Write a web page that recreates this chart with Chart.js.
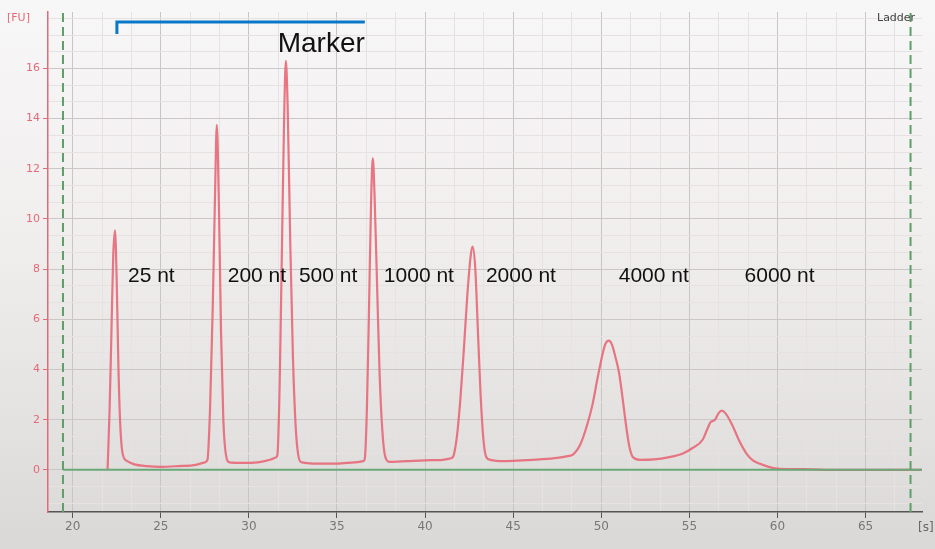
<!DOCTYPE html>
<html>
<head>
<meta charset="utf-8">
<script src="https://cdn.jsdelivr.net/npm/chart.js@4/dist/chart.umd.min.js"></script>
<style>
  html, body { margin: 0; padding: 0; }
  body {
    width: 935px; height: 549px; overflow: hidden;
    background: linear-gradient(to bottom, #f8f7f7 0%, #f0eded 45%, #e3e0e0 80%, #dad7d7 100%);
  }
  #wrap { position: relative; width: 935px; height: 549px; }
  canvas { display: block; }
</style>
</head>
<body>
<div id="wrap"><canvas id="ladderChart" width="935" height="549"></canvas></div>
<script>
// electropherogram trace: migration time [s] and fluorescence [FU]
const traceTime = [
  21.98, 22.1, 22.2, 22.3, 22.4, 22.5, 22.6, 22.7, 22.85, 23.1, 23.5, 24.2, 25, 26, 27, 27.5,
  27.65, 27.8, 27.95, 28.08, 28.18, 28.3, 28.42, 28.55, 28.7, 28.9, 29.5, 30.5, 31.2, 31.55,
  31.62, 31.75, 31.88, 32.0, 32.1, 32.2, 32.35, 32.5, 32.65, 32.8, 33.0, 34, 35, 36, 36.5,
  36.58, 36.7, 36.82, 36.93, 37.03, 37.13, 37.27, 37.42, 37.58, 37.75, 38.0, 39, 40, 41, 41.4,
  41.57, 41.8, 42.0, 42.2, 42.4, 42.6, 42.7, 42.85, 43.0, 43.15, 43.3, 43.45, 43.7, 44.5, 45.5, 46.5, 47.5, 48.1,
  48.37, 48.8, 49.2, 49.5, 49.8, 50.1, 50.25, 50.42, 50.6, 50.8, 51.0, 51.2, 51.4, 51.6, 51.8, 52.2, 53, 53.8,
  54.6, 55.2, 55.75, 56.0, 56.2, 56.45, 56.65, 56.83, 57.05, 57.45, 57.8, 58.25, 58.6, 59.0, 59.5, 60, 61, 62, 63, 68.2
];
const traceFU = [
  0, 2.5, 5.5, 8.5, 9.55, 7.5, 4, 1.8, 0.6, 0.35, 0.22, 0.15, 0.12, 0.15, 0.2, 0.3,
  0.4, 2.5, 6.5, 11, 13.75, 10.5, 5.5, 2, 0.6, 0.3, 0.28, 0.3, 0.4, 0.5,
  0.6, 3.5, 9, 14, 16.3, 14.5, 9, 4.5, 1.8, 0.6, 0.3, 0.25, 0.25, 0.3, 0.35,
  0.45, 2.5, 6.5, 10.5, 12.43, 11, 7.5, 3.8, 1.5, 0.5, 0.32, 0.35, 0.38, 0.4, 0.45,
  0.5, 1.3, 2.8, 4.8, 7, 8.6, 8.9, 8, 5.5, 3, 1.3, 0.55, 0.4, 0.35, 0.38, 0.42, 0.48, 0.55,
  0.6, 1.0, 1.8, 2.6, 3.7, 4.7, 5.05, 5.15, 5.0, 4.5, 3.9, 2.9, 1.8, 0.9, 0.5, 0.4, 0.42, 0.5,
  0.64, 0.88, 1.2, 1.6, 1.9, 2.0, 2.25, 2.36, 2.25, 1.76, 1.2, 0.64, 0.38, 0.24, 0.12, 0.05, 0.03, 0.02, 0, 0
];

// ladder fragment labels and where they sit (x in s, y in FU)
const sizeLabels = ['25 nt', '200 nt', '500 nt', '1000 nt', '2000 nt', '4000 nt', '6000 nt'];
const sizeLabelX = [23.14, 28.8, 32.84, 37.66, 43.45, 50.99, 58.13];
const sizeLabelY = 7.7;

// axis ticks
const xTickLabels = [20, 25, 30, 35, 40, 45, 50, 55, 60, 65];
const yTickLabels = [0, 2, 4, 6, 8, 10, 12, 14, 16];

// lower / upper marker (dashed green) and marker bracket
const markerTimes = [19.45, 67.55];
const bracketStart = 22.51, bracketEnd = 36.58, bracketTop = 17.85, bracketFoot = 17.37;

const X_MIN = 18.6, X_MAX = 68.2, Y_MIN = -1.68, Y_MAX = 18.25;

function withMinor(majors, step, min, max) {
  const out = [];
  const sub = step / 3;
  for (let v = majors[0] - step; v <= majors[majors.length - 1] + step; v += sub) {
    const r = Math.round(v * 1000) / 1000;
    if (r < min || r > max) continue;
    const isMajor = majors.includes(Math.round(r * 1000) / 1000);
    out.push({ value: r, major: isMajor });
  }
  return out;
}

const textPlugin = {
  id: 'texts',
  afterDatasetsDraw(chart) {
    const ctx = chart.ctx;
    const xs = chart.scales.x, ys = chart.scales.y;
    ctx.save();
    ctx.fillStyle = '#111';
    ctx.font = '21px "Liberation Sans", Arial, sans-serif';
    ctx.textBaseline = 'middle';
    ctx.textAlign = 'left';
    sizeLabels.forEach((t, i) => {
      ctx.fillText(t, xs.getPixelForValue(sizeLabelX[i]), ys.getPixelForValue(sizeLabelY));
    });
    ctx.font = '28px "Liberation Sans", Arial, sans-serif';
    ctx.textAlign = 'right';
    ctx.fillText('Marker', xs.getPixelForValue(bracketEnd), ys.getPixelForValue(16.97));

    ctx.font = '11px "DejaVu Sans", sans-serif';
    ctx.fillStyle = '#e46a78';
    ctx.textAlign = 'left';
    ctx.fillText('[FU]', 7, 18);
    ctx.fillStyle = '#444';
    ctx.fillText('Ladder', 877, 18);
    ctx.fillStyle = '#666';
    ctx.font = '12px "DejaVu Sans", sans-serif';
    ctx.fillText('[s]', 918, 528);
    ctx.restore();
  }
};

new Chart(document.getElementById('ladderChart'), {
  type: 'line',
  data: {
    datasets: [
      {
        // marker bracket
        data: [{ x: bracketStart, y: bracketFoot }, { x: bracketStart, y: bracketTop }, { x: bracketEnd, y: bracketTop }],
        borderColor: '#0a78c8',
        borderWidth: 3,
        pointRadius: 0,
        borderCapStyle: 'butt'
      },
      {
        // baseline
        data: [{ x: markerTimes[0], y: 0 }, { x: X_MAX, y: 0 }],
        borderColor: '#6aa878',
        borderWidth: 2,
        pointRadius: 0
      },
      {
        data: [{ x: markerTimes[0], y: Y_MIN }, { x: markerTimes[0], y: Y_MAX }],
        borderColor: '#5f9e6a',
        borderWidth: 2,
        borderDash: [9, 5],
        pointRadius: 0
      },
      {
        data: [{ x: markerTimes[1], y: Y_MIN }, { x: markerTimes[1], y: Y_MAX }],
        borderColor: '#5f9e6a',
        borderWidth: 2,
        borderDash: [9, 5],
        pointRadius: 0
      },
      {
        label: 'Ladder',
        data: traceTime.map((t, i) => ({ x: t, y: traceFU[i] })),
        borderColor: 'rgba(230, 106, 120, 0.92)',
        borderWidth: 2.2,
        pointRadius: 0,
        cubicInterpolationMode: 'monotone'
      }
    ]
  },
  options: {
    responsive: false,
    devicePixelRatio: 1,
    animation: false,
    layout: { padding: { top: 12, right: 13, left: 0, bottom: 0 } },
    plugins: { legend: { display: false }, tooltip: { enabled: false } },
    scales: {
      x: {
        type: 'linear',
        min: X_MIN,
        max: X_MAX,
        afterFit: s => { s.height = 37; },
        afterBuildTicks: s => { s.ticks = withMinor(xTickLabels, 5, X_MIN, X_MAX); },
        border: { color: '#555', width: 1.5 },
        grid: {
          color: c => (c.tick && c.tick.major ? '#c9c5c5' : '#e6e2e2'),
          tickColor: c => (c.tick && c.tick.major ? '#555' : 'rgba(0,0,0,0)'),
          tickLength: 6
        },
        ticks: {
          autoSkip: false,
          maxRotation: 0,
          color: '#777',
          font: { family: 'DejaVu Sans', size: 12 },
          padding: 2,
          callback: (v, i, ticks) => (ticks[i].major ? String(Math.round(v)) : '')
        }
      },
      y: {
        type: 'linear',
        min: Y_MIN,
        max: Y_MAX,
        afterFit: s => { s.width = 48; },
        afterBuildTicks: s => { s.ticks = withMinor(yTickLabels, 2, Y_MIN, Y_MAX); },
        border: { color: '#e06a78', width: 1.5 },
        grid: {
          color: c => (c.tick && c.tick.major ? '#cbc7c7' : '#e6e2e2'),
          tickColor: c => (c.tick && c.tick.major ? '#e06a78' : 'rgba(0,0,0,0)'),
          tickLength: 5
        },
        ticks: {
          autoSkip: false,
          color: '#e46a78',
          font: { family: 'DejaVu Sans', size: 11 },
          padding: 3,
          callback: (v, i, ticks) => (ticks[i].major ? String(Math.round(v)) : '')
        }
      }
    }
  },
  plugins: [textPlugin]
});
</script>
</body>
</html>
